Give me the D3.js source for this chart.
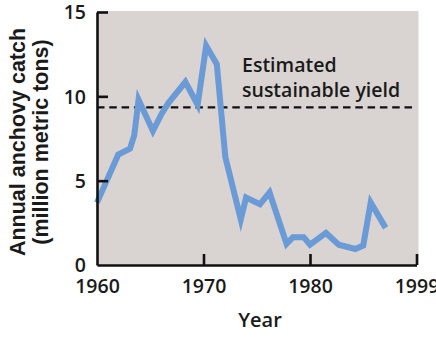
<!DOCTYPE html>
<html>
<head>
<meta charset="utf-8">
<script src="https://cdn.jsdelivr.net/npm/d3@7"></script>
<style>
  html, body { margin: 0; padding: 0; background: #ffffff; }
  svg { display: block; }
</style>
</head>
<body>
<svg id="chart" width="436" height="342"></svg>
<script>
// ---- data ----
const years = [1960, 1962.0, 1963.1, 1963.5, 1963.9, 1965.25, 1966.1, 1966.7, 1968.3, 1969.45,
               1970.25, 1971.25, 1972.05, 1973.5, 1974.0, 1975.3, 1976.2, 1977.8, 1978.4, 1979.4,
               1980.0, 1981.5, 1982.7, 1984.25, 1985.0, 1985.7, 1987.1];
const anchovyCatch = [3.7, 6.55, 6.9, 7.7, 9.8, 7.95, 9.0, 9.6, 10.85, 9.5,
                      13.0, 11.9, 6.4, 2.7, 4.0, 3.6, 4.3, 1.25, 1.65, 1.65,
                      1.2, 1.9, 1.2, 0.95, 1.15, 3.7, 2.2];
const sustainableYield = [9.35];
const xTickValues = [1960, 1970, 1980, 1990];
const xTickLabels = ["1960", "1970", "1980", "1999"];
const yTickValues = [0, 5, 10, 15];
const yLabelLines = ["Annual anchovy catch", "(million metric tons)"];
const xTitle = "Year";
const annotationLines = ["Estimated", "sustainable yield"];

// ---- layout ----
const svg = d3.select("#chart");
const x = d3.scaleLinear().domain([1960, 1990]).range([97, 416.5]);
const y = d3.scaleLinear().domain([0, 15]).range([265, 12]);
const font = "'Open Sans', sans-serif";

// background
svg.append("rect")
  .attr("x", x(1960)).attr("y", y(15) - 1)
  .attr("width", x(1990) - x(1960) + 2).attr("height", y(0) - y(15) + 1)
  .attr("fill", "#d9d3d1");

// dashed sustainable yield line
svg.append("line")
  .attr("x1", x(1960)).attr("x2", x(1990))
  .attr("y1", y(sustainableYield[0])).attr("y2", y(sustainableYield[0]))
  .attr("stroke", "#111").attr("stroke-width", 2.2)
  .attr("stroke-dasharray", "7.5,4.8");

// annotation
const ann = svg.append("text")
  .attr("font-family", font).attr("font-weight", 600).attr("font-size", 19.5)
  .attr("fill", "#1a1a1a");
annotationLines.forEach((t, i) => {
  ann.append("tspan").attr("x", 242).attr("y", 71.5 + i * 25.5).text(t);
});

// catch line
const line = d3.line().x((d, i) => x(years[i])).y(d => y(d));
svg.append("path")
  .datum(anchovyCatch)
  .attr("d", line)
  .attr("fill", "none")
  .attr("stroke", "#6b9bd6")
  .attr("stroke-width", 6)
  .attr("stroke-linejoin", "miter")
  .attr("stroke-miterlimit", 6);

// axes
const yAxis = d3.axisLeft(y).tickValues(yTickValues).tickSize(-11).tickPadding(22).tickSizeOuter(0);
const gy = svg.append("g").attr("transform", `translate(${x(1960)},0)`).call(yAxis);
const xAxis = d3.axisBottom(x).tickValues(xTickValues)
  .tickFormat((d, i) => xTickLabels[i]).tickSize(-11).tickPadding(24).tickSizeOuter(0);
const gx = svg.append("g").attr("transform", `translate(0,${y(0)})`).call(xAxis);

[gx, gy].forEach(g => {
  g.select(".domain").attr("stroke", "#111").attr("stroke-width", 2.6);
  g.selectAll(".tick line").attr("stroke", "#111").attr("stroke-width", 2.6);
  g.selectAll(".tick text")
    .attr("font-family", font).attr("font-weight", 600).attr("font-size", 19.5)
    .attr("fill", "#1a1a1a");
});
// y tick labels: right aligned
gy.selectAll(".tick text").attr("x", -11).attr("dy", "0.35em");
gx.selectAll(".tick text").attr("y", 14).attr("dy", "0.71em");
// remove the 1960 x tick mark (it coincides with the y axis)
gx.selectAll(".tick").filter(d => d === 1960).select("line").remove();
gy.selectAll(".tick").filter(d => d === 0).select("line").remove();

// x title
svg.append("text")
  .attr("x", 260).attr("y", 327)
  .attr("text-anchor", "middle")
  .attr("font-family", font).attr("font-weight", 600).attr("font-size", 20)
  .attr("fill", "#1a1a1a")
  .text(xTitle);

// y title (two rotated lines)
const yt = svg.append("text")
  .attr("transform", "rotate(-90)")
  .attr("text-anchor", "middle")
  .attr("font-family", "'Liberation Sans', Arial, sans-serif")
  .attr("font-weight", 700).attr("font-size", 21.5)
  .attr("fill", "#1a1a1a");
yLabelLines.forEach((t, i) => {
  yt.append("tspan").attr("x", -142).attr("y", 25 + i * 23).text(t);
});
</script>
</body>
</html>
